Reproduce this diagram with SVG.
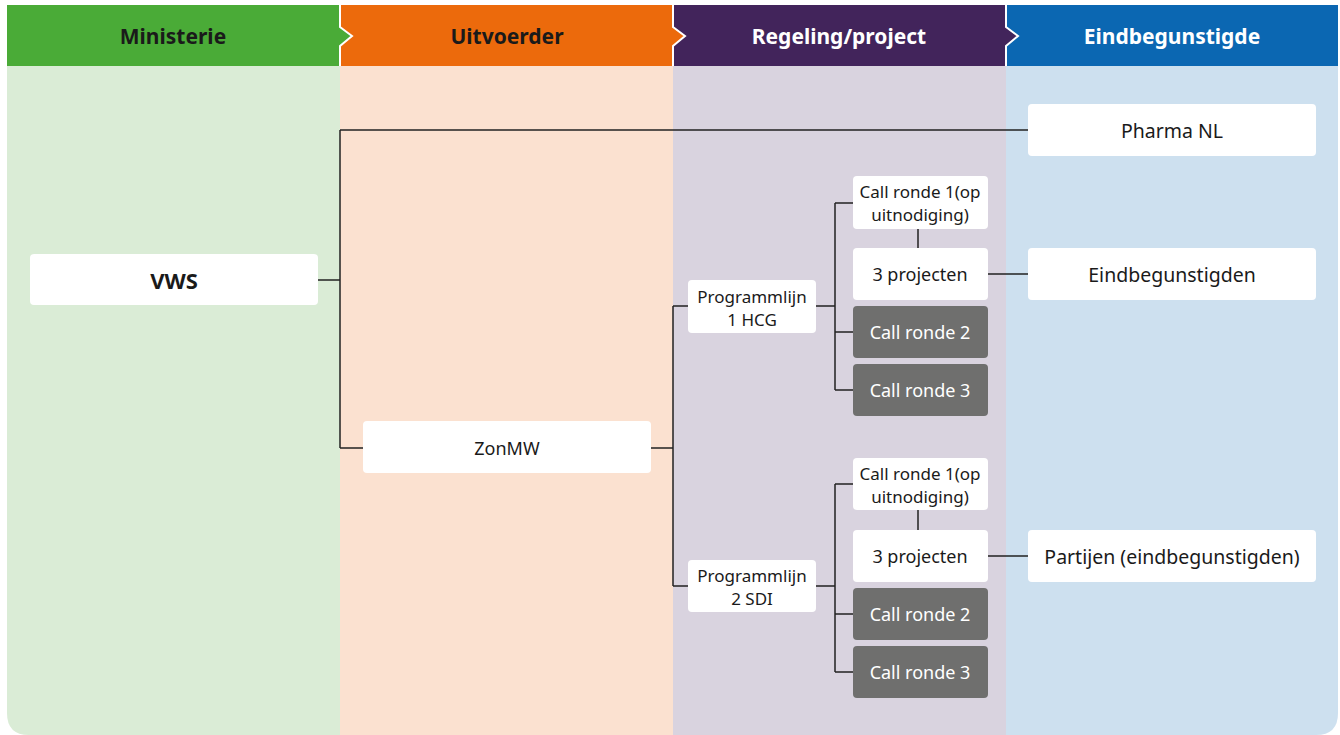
<svg xmlns="http://www.w3.org/2000/svg" width="1340" height="735" viewBox="0 0 1340 735">
<defs>
<style>
.hd{font-family:"Noto Sans","Open Sans",sans-serif;font-weight:bold;font-size:21px;text-anchor:middle;dominant-baseline:central}
.box{fill:#ffffff}
.dark{fill:#6f6f6e}
.t{font-family:"Noto Sans","Open Sans",sans-serif;font-size:18px;fill:#1a1a1a;text-anchor:middle;dominant-baseline:central}
.t2{font-family:"Noto Sans","Open Sans",sans-serif;font-size:17px;fill:#1a1a1a;text-anchor:middle;dominant-baseline:central}
.tl{font-family:"Noto Sans","Open Sans",sans-serif;font-size:19.5px;fill:#1a1a1a;text-anchor:middle;dominant-baseline:central}
.tw{font-family:"Noto Sans","Open Sans",sans-serif;font-size:18px;fill:#ffffff;text-anchor:middle;dominant-baseline:central}
.c{fill:none;stroke:#222222;stroke-width:1.5}
.chev{fill:none;stroke:#ffffff;stroke-width:2}
</style>
<clipPath id="bodyclip"><path d="M7,66 H1338 V713 Q1338,735 1316,735 H29 Q7,735 7,713 Z"/></clipPath>
</defs>
<rect x="0" y="0" width="1340" height="735" fill="#ffffff"/>
<g id="lanes">
<g clip-path="url(#bodyclip)">
<rect x="7" y="66" width="333" height="670" fill="#daecd6"/>
<rect x="340" y="66" width="333" height="670" fill="#fbe1d0"/>
<rect x="673" y="66" width="333" height="670" fill="#d9d3df"/>
<rect x="1006" y="66" width="332" height="670" fill="#cde0ef"/>
</g>
<rect x="7" y="5" width="333" height="61" fill="#4aab37"/>
<rect x="340" y="5" width="333" height="61" fill="#ec6a0c"/>
<rect x="673" y="5" width="333" height="61" fill="#42245b"/>
<rect x="1006" y="5" width="332" height="61" fill="#0b67b2"/>
<polygon points="340,27 352,36 340,46" fill="#4aab37"/>
<polygon points="673,27 685,36 673,46" fill="#ec6a0c"/>
<polygon points="1006,27 1018,36 1006,46" fill="#42245b"/>
<polyline class="chev" points="340,5 340,27 352,36 340,46 340,66"/>
<polyline class="chev" points="673,5 673,27 685,36 673,46 673,66"/>
<polyline class="chev" points="1006,5 1006,27 1018,36 1006,46 1006,66"/>
<text class="hd" x="173" y="36" fill="#1a1a1a">Ministerie</text>
<text class="hd" x="507" y="36" fill="#1a1a1a">Uitvoerder</text>
<text class="hd" x="839" y="36" fill="#ffffff">Regeling/project</text>
<text class="hd" x="1172" y="36" fill="#ffffff">Eindbegunstigde</text>
</g>
<g id="connectors">
<path class="c" d="M318,280 H340 M340,130 V448 M340,130 H1028 M340,448 H363"/>
<path class="c" d="M651,448 H673 M673,306 V586 M673,306 H688 M673,586 H688"/>
<path class="c" d="M816,306 H835 M835,203 V390 M835,203 H853 M835,332 H853 M835,390 H853 M918,229 V248 M988,274 H1028"/>
<path class="c" d="M816,586 H835 M835,484 V672 M835,484 H853 M835,614 H853 M835,672 H853 M918,510 V530 M988,556 H1028"/>
</g>
<g id="n-vws"><rect class="box" x="30" y="254" width="288" height="51" rx="4"/><text class="tl" x="174" y="280" style="font-weight:bold;font-size:22px">VWS</text></g>
<g id="n-pharma"><rect class="box" x="1028" y="104" width="288" height="52" rx="4"/><text class="tl" x="1172" y="130">Pharma NL</text></g>
<g id="n-eind"><rect class="box" x="1028" y="248" width="288" height="52" rx="4"/><text class="tl" x="1172" y="274">Eindbegunstigden</text></g>
<g id="n-partijen"><rect class="box" x="1028" y="530" width="288" height="52" rx="4"/><text class="tl" x="1172" y="556">Partijen (eindbegunstigden)</text></g>
<g id="n-zonmw"><rect class="box" x="363" y="421" width="288" height="52" rx="4"/><text class="t" x="507" y="448">ZonMW</text></g>
<g id="n-prog1"><rect class="box" x="688" y="280" width="128" height="53" rx="4"/><text class="t2" x="752" y="296">Programmlijn</text><text class="t2" x="752" y="319">1 HCG</text></g>
<g id="n-prog2"><rect class="box" x="688" y="560" width="128" height="52" rx="4"/><text class="t2" x="752" y="575">Programmlijn</text><text class="t2" x="752" y="598">2 SDI</text></g>
<g id="n-c1a"><rect class="box" x="853" y="176" width="135" height="53" rx="4"/><text class="t2" x="920" y="191">Call ronde 1(op</text><text class="t2" x="920" y="214">uitnodiging)</text></g>
<g id="n-p1"><rect class="box" x="853" y="248" width="135" height="52" rx="4"/><text class="t" x="920" y="274">3 projecten</text></g>
<g id="n-c2a"><rect class="dark" x="853" y="306" width="135" height="52" rx="4"/><text class="tw" x="920" y="332">Call ronde 2</text></g>
<g id="n-c3a"><rect class="dark" x="853" y="364" width="135" height="52" rx="4"/><text class="tw" x="920" y="390">Call ronde 3</text></g>
<g id="n-c1b"><rect class="box" x="853" y="458" width="135" height="52" rx="4"/><text class="t2" x="920" y="473">Call ronde 1(op</text><text class="t2" x="920" y="496">uitnodiging)</text></g>
<g id="n-p2"><rect class="box" x="853" y="530" width="135" height="52" rx="4"/><text class="t" x="920" y="556">3 projecten</text></g>
<g id="n-c2b"><rect class="dark" x="853" y="588" width="135" height="52" rx="4"/><text class="tw" x="920" y="614">Call ronde 2</text></g>
<g id="n-c3b"><rect class="dark" x="853" y="646" width="135" height="52" rx="4"/><text class="tw" x="920" y="672">Call ronde 3</text></g>
</svg>
